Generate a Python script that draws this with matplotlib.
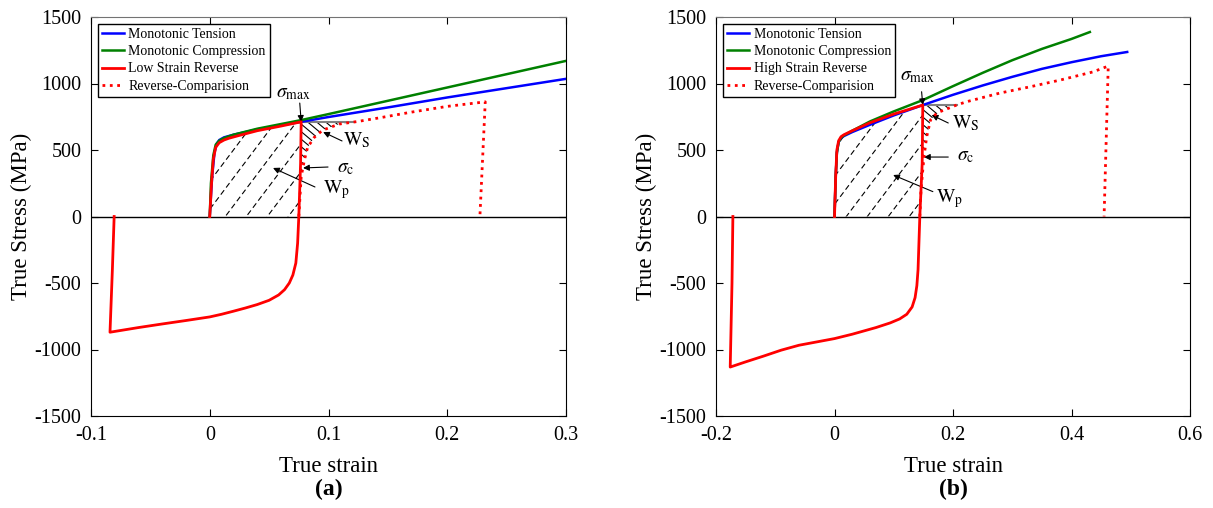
import numpy as np
import matplotlib
matplotlib.use("Agg")
import matplotlib.pyplot as plt
from matplotlib.lines import Line2D
from matplotlib.patches import Polygon

plt.rcParams['font.family'] = ['Liberation Serif', 'DejaVu Serif']
plt.rcParams['mathtext.fontset'] = 'stix'
plt.rcParams['axes.unicode_minus'] = False

# ---------------- panel (a) data ----------------
a_ten_x = [0, 0.002, 0.004, 0.006, 0.008, 0.012, 0.02, 0.04, 0.077, 0.1, 0.15, 0.2, 0.25, 0.3]
a_ten_y = [0, 300, 480, 550, 575, 595, 615, 655, 712, 748, 820, 895, 965, 1035]
a_com_x = [0, 0.001, 0.003, 0.005, 0.008, 0.012, 0.02, 0.04, 0.077, 0.1, 0.15, 0.2, 0.25, 0.3]
a_com_y = [0, 250, 460, 540, 570, 590, 615, 660, 725, 770, 870, 970, 1070, 1170]
a_load_x = [0, 0.0015, 0.003, 0.005, 0.008, 0.012, 0.016, 0.025, 0.04, 0.06, 0.077]
a_load_y = [0, 250, 430, 520, 555, 575, 588, 610, 645, 680, 712]
a_rev_x = [0.0765, 0.075, 0.074, 0.0725, 0.07, 0.067, 0.063, 0.058, 0.05, 0.04, 0.03,
           0.02, 0.01, 0.0, -0.02, -0.04, -0.06, -0.084, -0.082, -0.0805]
a_rev_y = [400, 0, -200, -350, -440, -500, -550, -590, -630, -662, -688,
           -712, -735, -755, -782, -808, -835, -870, -400, 0]
a_dot_x = [0.075, 0.077, 0.0797, 0.0824, 0.088, 0.095, 0.109, 0.125, 0.143, 0.17, 0.2, 0.232, 0.2275]
a_dot_y = [0, 300, 424, 520, 595, 649, 695, 715, 742, 785, 828, 862, 0]

# ---------------- panel (b) data ----------------
b_ten_x = [0, 0.002, 0.004, 0.007, 0.011, 0.016, 0.03, 0.06, 0.1, 0.149, 0.2, 0.25, 0.3,
           0.35, 0.4, 0.45, 0.494]
b_ten_y = [0, 300, 480, 560, 590, 605, 635, 690, 760, 838, 915, 985, 1050,
           1110, 1160, 1205, 1237]
b_com_x = [0, 0.002, 0.004, 0.007, 0.011, 0.016, 0.03, 0.06, 0.1, 0.149, 0.2, 0.25, 0.3,
           0.35, 0.4, 0.431]
b_com_y = [0, 300, 480, 560, 592, 610, 645, 715, 790, 875, 980, 1080, 1175,
           1260, 1335, 1387]
b_load_x = [0, 0.002, 0.004, 0.007, 0.011, 0.016, 0.03, 0.06, 0.1, 0.149]
b_load_y = [0, 300, 500, 570, 600, 615, 645, 705, 770, 838]
b_rev_x = [0.148, 0.144, 0.1425, 0.141, 0.139, 0.136, 0.131, 0.122, 0.11, 0.094, 0.07,
           0.05, 0.03, 0.0, -0.03, -0.06, -0.09, -0.12, -0.15, -0.176, -0.173, -0.1715]
b_rev_y = [400, 0, -200, -400, -520, -610, -680, -735, -770, -800, -835,
           -860, -885, -918, -943, -968, -1005, -1050, -1093, -1132, -500, 0]
b_dot_x = [0.144, 0.146, 0.149, 0.151, 0.1556, 0.162, 0.17, 0.178, 0.206, 0.223, 0.279,
           0.33, 0.381, 0.436, 0.462, 0.455]
b_dot_y = [0, 200, 350, 447, 600, 726, 765, 788, 838, 863, 928,
           975, 1026, 1087, 1131, 0]

legend_a = ['Monotonic Tension', 'Monotonic Compression', 'Low Strain Reverse', 'Reverse-Comparision']
legend_b = ['Monotonic Tension', 'Monotonic Compression', 'High Strain Reverse', 'Reverse-Comparision']

# annotation placement: (label, text pos, arrow tail, arrow head)
notes_a = [(r'$\sigma_{\mathrm{max}}$', (0.0558, 899), (0.0758, 853), (0.077, 712)),
           (r'$\mathrm{W}_{\mathrm{S}}$', (0.1124, 538), (0.1114, 568), (0.0955, 635)),
           (r'$\sigma_{\mathrm{c}}$', (0.107, 335), (0.0996, 372), (0.0786, 365)),
           (r'$\mathrm{W}_{\mathrm{p}}$', (0.0955, 177), (0.0886, 222), (0.0533, 365))]
notes_b = [(r'$\sigma_{\mathrm{max}}$', (0.110, 1026), (0.147, 938), (0.149, 838)),
           (r'$\mathrm{W}_{\mathrm{S}}$', (0.198, 666), (0.192, 703), (0.164, 763)),
           (r'$\sigma_{\mathrm{c}}$', (0.207, 425), (0.192, 447), (0.151, 447)),
           (r'$\mathrm{W}_{\mathrm{p}}$', (0.172, 109), (0.166, 187), (0.099, 312))]


def hatch_region(ax, px, py, angle, step, **kw):
    # draw parallel lines at a screen angle, clipped to the polygon (px, py)
    x0, x1 = ax.get_xlim()
    y0, y1 = ax.get_ylim()
    sx = ax.bbox.width / (x1 - x0)
    sy = ax.bbox.height / (y1 - y0)
    X = (np.asarray(px) - x0) * sx
    Y = (np.asarray(py) - y0) * sy
    t = np.tan(np.radians(angle))
    c = Y - t * X
    patch = Polygon(np.column_stack([px, py]), closed=True, facecolor='none',
                    edgecolor='none', transform=ax.transData)
    ax.add_patch(patch)
    xs = np.array([X.min() - 5, X.max() + 5])
    for ci in np.arange(c.min() + step * abs(t) / 2, c.max(), step * abs(t)):
        ys = t * xs + ci
        ln, = ax.plot(xs / sx + x0, ys / sy + y0, **kw)
        ln.set_clip_path(patch)


def draw_panel(ax, ten, com, load, rev, dot, labels, notes, xlim, xticks, tag):
    ax.set_xlim(*xlim)
    ax.set_ylim(-1500, 1500)
    ax.axhline(0, color='k', lw=1.0, zorder=1)

    ax.plot(ten[0], ten[1], color='#0000FF', lw=1.8, zorder=3)
    ax.plot(com[0], com[1], color='#008000', lw=1.8, zorder=3)
    ax.plot(load[0] + rev[0], load[1] + rev[1], color='#FF0000', lw=2.0, zorder=4)
    ax.plot(dot[0], dot[1], color='#FF0000', lw=2.0, ls=':', zorder=4)

    # W_p region under loading branch
    rx = np.array(rev[0]); ry = np.array(rev[1])
    wp_x = list(load[0]) + list(rx[:2])
    wp_y = list(load[1]) + list(ry[:2])
    hatch_region(ax, wp_x, wp_y, 53, 21, color='k', lw=0.8, ls=(0, (5, 3)), zorder=2)

    # W_s region and sigma_max level line
    xp, sp = load[0][-1], load[1][-1]
    dx = np.array(dot[0][:-1]); dy = np.array(dot[1][:-1])
    xe = np.interp(sp, dy, dx)
    keep = dy < sp
    ws_x = [xp, xe] + list(dx[keep][::-1]) + list(rx[:2][::-1])
    ws_y = [sp, sp] + list(dy[keep][::-1]) + list(ry[:2][::-1])
    hatch_region(ax, ws_x, ws_y, -40, 9, color='k', lw=0.8, zorder=2)
    ax.plot([xp, xe], [sp, sp], color='0.5', lw=1.5, zorder=2)

    for txt, tpos, tail, head in notes:
        ax.text(tpos[0], tpos[1], txt, fontsize=14, ha='left', va='baseline')
        ax.annotate('', xy=head, xytext=tail,
                    arrowprops=dict(arrowstyle='-|>', color='k', lw=0.8,
                                    shrinkA=0, shrinkB=0, mutation_scale=9))

    handles = [Line2D([], [], color='#0000FF', lw=1.8),
               Line2D([], [], color='#008000', lw=1.8),
               Line2D([], [], color='#FF0000', lw=2.0),
               Line2D([], [], color='#FF0000', lw=2.0, ls=':')]
    leg = ax.legend(handles, labels, loc='upper left', fontsize=10, frameon=True,
                    fancybox=False, framealpha=1, edgecolor='k', borderpad=0.3,
                    labelspacing=0.3, handlelength=1.6, handletextpad=0.3,
                    borderaxespad=0.5)
    leg.get_frame().set_linewidth(1.0)
    leg.set_zorder(6)

    ax.set_xticks(xticks)
    ax.set_xticklabels([('%g' % v) for v in xticks])
    ax.set_yticks([-1500, -1000, -500, 0, 500, 1000, 1500])
    ax.tick_params(direction='in', top=True, right=True, labelsize=14.5, length=5, pad=7)
    ax.set_xlabel('True strain', fontsize=16.5, labelpad=8)
    ax.set_ylabel('True Stress (MPa)', fontsize=16.5, labelpad=2)
    ax.spines['top'].set_color('0.45')
    ax.text(0.5, -0.185, tag, transform=ax.transAxes, ha='center', va='center',
            fontsize=17, fontweight='bold')


fig = plt.figure(figsize=(12.13, 5.08), dpi=100)
ax1 = fig.add_axes([91 / 1213, 1 - 416 / 508, 475 / 1213, 399 / 508])
ax2 = fig.add_axes([716 / 1213, 1 - 416 / 508, 474 / 1213, 399 / 508])

draw_panel(ax1, (a_ten_x, a_ten_y), (a_com_x, a_com_y), (a_load_x, a_load_y),
           (a_rev_x, a_rev_y), (a_dot_x, a_dot_y), legend_a, notes_a,
           (-0.1, 0.3), [-0.1, 0, 0.1, 0.2, 0.3], '(a)')
draw_panel(ax2, (b_ten_x, b_ten_y), (b_com_x, b_com_y), (b_load_x, b_load_y),
           (b_rev_x, b_rev_y), (b_dot_x, b_dot_y), legend_b, notes_b,
           (-0.2, 0.6), [-0.2, 0, 0.2, 0.4, 0.6], '(b)')

fig.savefig('out.png', dpi=100)
